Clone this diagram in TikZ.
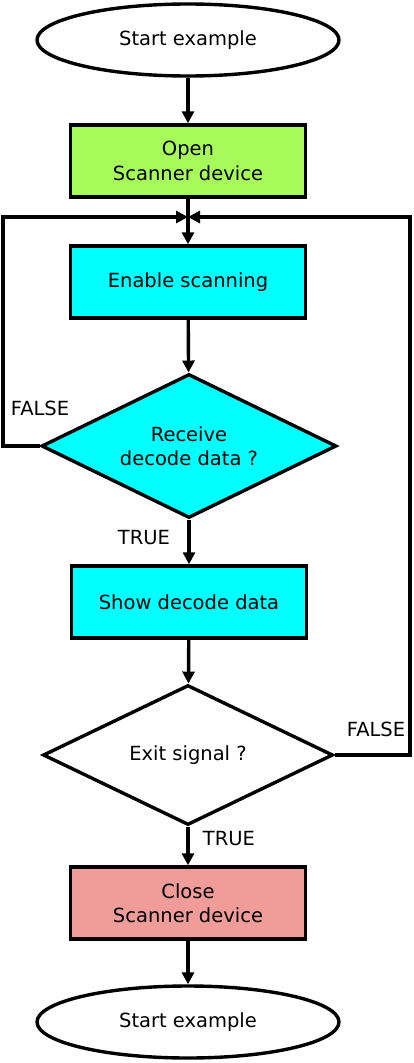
\documentclass[tikz,border=0pt]{standalone}
\usepackage{fontspec}
\setmainfont{DejaVu Sans}
\usetikzlibrary{shapes.geometric,arrows.meta}
\definecolor{okgreen}{RGB}{166,250,90}
\definecolor{okcyan}{RGB}{0,255,255}
\definecolor{okpink}{RGB}{240,156,152}
\begin{document}
\begin{tikzpicture}[x=1pt,y=1pt,
  every node/.style={font=\fontsize{19.5}{24.5}\selectfont, align=center},
  arr/.style={line width=3.4pt,-{Triangle[length=12pt,width=12pt]}},
  procbox/.style={draw, line width=3.4pt, minimum width=235pt, minimum height=72pt, inner sep=0pt},
  termnode/.style={draw, ellipse, line width=3.4pt, minimum width=302pt, minimum height=72pt, fill=white, inner sep=0pt},
  decision/.style={draw, diamond, shape aspect=2.05, line width=3.4pt, inner sep=0pt},
  lbl/.style={inner sep=0pt}
]
\useasboundingbox (0,0) rectangle (414,-1063);
\node[termnode] (start) at (188,-40) {Start example};
\node[procbox, fill=okgreen] (open) at (188,-161) {Open\\Scanner device};
\coordinate (join) at (188,-217);
\node[procbox, fill=okcyan] (enable) at (188,-282) {Enable scanning};
\node[decision, fill=okcyan, minimum width=295pt, minimum height=144pt] (recv) at (189,-446) {Receive\\decode data ?};
\node[procbox, fill=okcyan] (show) at (189,-602) {Show decode data};
\node[decision, fill=white, minimum width=290pt, minimum height=140pt] (exit) at (188,-755) {Exit signal ?};
\node[procbox, fill=okpink] (close) at (188,-903) {Close\\Scanner device};
\node[termnode] (stop) at (188,-1022) {Start example};
\coordinate (lc) at (3,-217);
\coordinate (rc) at (410,-217);

\draw[arr] (start) -- (open);
\draw[arr] (open) -- (enable);
\draw[arr] (enable) -- (recv);
\draw[arr] (recv) -- (show);
\draw[arr] (show) -- (exit);
\draw[arr] (exit) -- (close);
\draw[arr] (close) -- (stop);
\draw[arr] (recv.west) -| (lc) -- (join);
\draw[arr] (exit.east) -| (rc) -- (join);

\node[lbl] (f1) at (40,-408) {FALSE};
\node[lbl] (t1) at (144,-538) {TRUE};
\node[lbl] (f2) at (376,-729) {FALSE};
\node[lbl] (t2) at (229,-839) {TRUE};
\end{tikzpicture}
\end{document}
